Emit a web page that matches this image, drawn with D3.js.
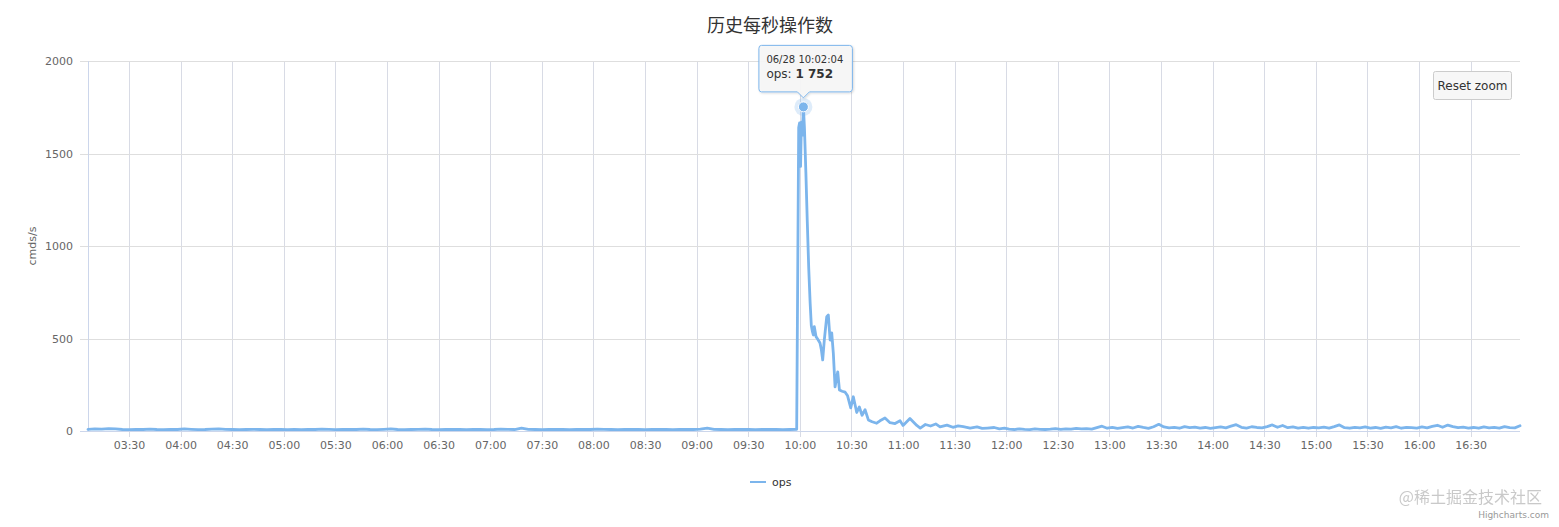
<!DOCTYPE html>
<html>
<head>
<meta charset="utf-8">
<script src="https://cdn.jsdelivr.net/npm/d3@7"></script>
<style>
  html, body { margin: 0; padding: 0; background: #fff; }
  svg { display: block; font-family: "DejaVu Sans", Verdana, sans-serif; }
</style>
</head>
<body>
<div id="chart"></div>
<script>
// ---- data ----
const seriesName = "ops";
const chartTitle = "历史每秒操作数";
const yTitle = "cmds/s";
const yTicks = [0, 500, 1000, 1500, 2000];

// before the spike: one sample every 4 minutes from 03:06:10
const morningStart = "03:06:10";
const morningStepMin = 4;
const morningOps = [
  9, 12, 10, 13, 11, 8, 7, 9, 8, 10,
  8, 7, 9, 8, 11, 9, 7, 8, 10, 12,
  9, 8, 7, 8, 9, 8, 7, 9, 8, 7,
  8, 7, 9, 8, 10, 9, 7, 8, 9, 8,
  10, 8, 7, 9, 11, 8, 7, 8, 9, 10,
  8, 7, 8, 9, 8, 7, 9, 8, 7, 8,
  10, 9, 8, 15, 9, 8, 7, 8, 9, 8,
  7, 8, 9, 8, 10, 9, 8, 7, 8, 9,
  8, 7, 8, 9, 8, 7, 8, 9, 8, 10,
  16, 9, 8, 7, 8, 9, 8, 7, 8, 9,
  8, 7, 8, 9
];

// the spike and its decay
const spikeTimes = [
  "09:59:20", "09:59:50", "10:00:25", "10:00:55", "10:01:25", "10:02:04", "10:02:40", "10:03:30",
  "10:04:20", "10:05:10", "10:06:00", "10:06:40", "10:07:15", "10:07:51", "10:08:25", "10:09:25",
  "10:10:30", "10:11:43", "10:12:30", "10:13:17", "10:14:14", "10:15:38", "10:16:34", "10:17:35",
  "10:18:32", "10:19:28", "10:20:28", "10:22:02", "10:23:00", "10:24:35", "10:26:20", "10:27:45",
  "10:29:35", "10:31:05", "10:33:05", "10:34:35", "10:36:10", "10:37:55", "10:39:50", "10:42:00",
  "10:44:40", "10:46:35", "10:49:30", "10:52:25", "10:55:20", "10:58:15", "11:00:00", "11:04:00",
  "11:08:00", "11:10:00", "11:13:00", "11:16:00", "11:19:00", "11:21:30", "11:25:30", "11:29:00",
  "11:32:00", "11:35:00", "11:39:00", "11:43:00", "11:46:00", "11:49:00", "11:53:00", "11:56:00",
  "11:59:00"
];
const spikeOps = [
  1640, 1665, 1430, 1670, 1600, 1752, 1640, 1400,
  1130, 880, 690, 570, 540, 519, 564, 510,
  495, 476, 440, 384, 492, 618, 627, 492,
  530, 421, 238, 320, 222, 215, 210, 190,
  125, 185, 100, 130, 85, 115, 60, 50,
  42, 55, 70, 45, 40, 55, 30, 68,
  30, 16, 35, 27, 38, 22, 32, 20,
  28, 24, 16, 22, 14, 16, 19, 12,
  15
];

// afternoon: one sample every 3 minutes from 12:01:40
const afternoonStart = "12:01:40";
const afternoonStepMin = 3;
const afternoonOps = [
  10, 8, 12, 9, 7, 11, 9, 8, 10, 13,
  9, 12, 10, 14, 11, 13, 10, 18, 26, 15,
  20, 14, 18, 22, 16, 25, 19, 14, 23, 36,
  22, 17, 20, 15, 24, 18, 21, 16, 19, 14,
  18, 22, 17, 26, 34, 20, 16, 23, 19, 17,
  24, 33, 20, 30, 18, 22, 16, 20, 15, 19,
  17, 21, 16, 24, 33, 18, 15, 20, 17, 22,
  16, 19, 14, 21, 17, 24, 15, 20, 18, 16,
  22, 17, 25, 31, 20, 32, 24, 18, 21, 16,
  19, 15, 22, 17, 20, 16, 24, 18, 17, 28
];

// the hovered point shown in the tooltip
const hoverTime = "10:02:04";
const hoverDate = "06/28";

// ---- build the series ----
const parseTime = d3.timeParse("%Y-%m-%d %H:%M:%S");
const day = "2023-06-28 ";
function at(t) { return parseTime(day + t); }

const data = [];
morningOps.forEach((v, i) => data.push({ t: d3.timeMinute.offset(at(morningStart), i * morningStepMin), v: v }));
spikeTimes.forEach((t, i) => data.push({ t: at(t), v: spikeOps[i] }));
afternoonOps.forEach((v, i) => data.push({ t: d3.timeMinute.offset(at(afternoonStart), i * afternoonStepMin), v: v }));

// ---- chart ----
const W = 1559, H = 527;
const margin = { top: 61, right: 39, bottom: 96, left: 88 };
const width = W - margin.left - margin.right;
const height = H - margin.top - margin.bottom;
const lineColor = "#7cb5ec";

const svg = d3.select("#chart").append("svg")
  .attr("width", W)
  .attr("height", H);

const defs = svg.append("defs");
const shadow = defs.append("filter").attr("id", "tipShadow")
  .attr("x", "-20%").attr("y", "-20%").attr("width", "140%").attr("height", "150%");
shadow.append("feDropShadow").attr("dx", 1).attr("dy", 1).attr("stdDeviation", 1.2)
  .attr("flood-color", "#000").attr("flood-opacity", 0.15);

// title
svg.append("text")
  .attr("x", 770).attr("y", 32)
  .attr("text-anchor", "middle")
  .style("font-family", "'Noto Sans CJK SC', sans-serif")
  .style("font-size", "18px")
  .attr("fill", "#333")
  .text(chartTitle);

const g = svg.append("g").attr("transform", `translate(${margin.left},${margin.top})`);

const x = d3.scaleTime()
  .domain(d3.extent(data, d => d.t))
  .range([0, width]);
const y = d3.scaleLinear()
  .domain([0, 2000])
  .range([height, 0]);

// x gridlines + ticks
const xTicks = x.ticks(d3.timeMinute.every(30)).filter(d => x(d) > 2);
g.append("g")
  .selectAll("line")
  .data(xTicks)
  .enter().append("line")
  .attr("x1", d => Math.round(x(d)) + 0.5)
  .attr("x2", d => Math.round(x(d)) + 0.5)
  .attr("y1", 0)
  .attr("y2", height + 6)
  .attr("stroke", "#d8dbe5")
  .attr("stroke-width", 1);

// y gridlines
g.append("g")
  .selectAll("line")
  .data(yTicks)
  .enter().append("line")
  .attr("x1", -8)
  .attr("x2", width)
  .attr("y1", d => Math.round(y(d)) + 0.5)
  .attr("y2", d => Math.round(y(d)) + 0.5)
  .attr("stroke", d => d === 0 ? "#ccd6eb" : "#dedede")
  .attr("stroke-width", 1);

// y axis line
g.append("line")
  .attr("x1", 0.5).attr("x2", 0.5)
  .attr("y1", 0).attr("y2", height)
  .attr("stroke", "#ccd6eb");

// axis labels
const xAxis = d3.axisBottom(x)
  .tickValues(xTicks)
  .tickFormat(d3.timeFormat("%H:%M"))
  .tickSize(0)
  .tickPadding(10);
const xg = g.append("g").attr("transform", `translate(0,${height})`).call(xAxis);
xg.select(".domain").remove();
xg.selectAll("text").attr("fill", "#666").style("font-size", "11px")
  .style("font-family", "'DejaVu Sans', Verdana, sans-serif");

const yAxis = d3.axisLeft(y).tickValues(yTicks).tickFormat(d3.format("d")).tickSize(0).tickPadding(15);
const yg = g.append("g").call(yAxis);
yg.select(".domain").remove();
yg.selectAll("text").attr("fill", "#666").style("font-size", "11px")
  .style("font-family", "'DejaVu Sans', Verdana, sans-serif");

svg.append("text")
  .attr("transform", `translate(36,${margin.top + height / 2}) rotate(-90)`)
  .attr("text-anchor", "middle")
  .attr("fill", "#666")
  .style("font-size", "11px")
  .text(yTitle);

// series line
const line = d3.line()
  .x(d => x(d.t))
  .y(d => y(d.v));

g.append("path")
  .datum(data)
  .attr("fill", "none")
  .attr("stroke", lineColor)
  .attr("stroke-width", 2.8)
  .attr("stroke-linejoin", "round")
  .attr("stroke-linecap", "round")
  .attr("d", line);

// hovered point
const hp = data.find(d => d.t.getTime() === at(hoverTime).getTime());
const hx = x(hp.t), hy = y(hp.v);
g.append("circle").attr("cx", hx).attr("cy", hy).attr("r", 9)
  .attr("fill", lineColor).attr("opacity", 0.25);
g.append("circle").attr("cx", hx).attr("cy", hy).attr("r", 5)
  .attr("fill", lineColor).attr("stroke", "#fff").attr("stroke-width", 1);

// tooltip
const tipW = 94, tipH = 47;
const tipX = hx - 45, tipY = hy - 62;
const tip = g.append("g").attr("transform", `translate(${tipX},${tipY})`);
const px = hx - tipX;
tip.append("path")
  .attr("d", `M3,0.5 H${tipW - 3} Q${tipW},0.5 ${tipW},3.5 V${tipH - 3} Q${tipW},${tipH} ${tipW - 3},${tipH}
    H${px + 6} L${px},${tipH + 6} L${px - 6},${tipH} H3 Q0.5,${tipH} 0.5,${tipH - 3} V3.5 Q0.5,0.5 3,0.5 Z`)
  .attr("fill", "rgba(247,247,247,0.92)")
  .attr("stroke", lineColor)
  .attr("stroke-width", 1)
  .attr("filter", "url(#tipShadow)");
tip.append("text")
  .attr("x", 8).attr("y", 18)
  .attr("fill", "#333")
  .style("font-size", "10px")
  .text(`${hoverDate} ${hoverTime}`);
const t2 = tip.append("text")
  .attr("x", 8).attr("y", 33)
  .attr("fill", "#333")
  .style("font-size", "12px");
t2.append("tspan").text(`${seriesName}: `);
t2.append("tspan").style("font-weight", "bold")
  .text(d3.format(",")(hp.v).replace(/,/g, " "));

// reset zoom button
const btn = svg.append("g").attr("transform", "translate(1433.5,71.5)");
btn.append("rect")
  .attr("width", 78).attr("height", 28).attr("rx", 2)
  .attr("fill", "#f7f7f7").attr("stroke", "#cccccc");
btn.append("text")
  .attr("x", 39).attr("y", 18)
  .attr("text-anchor", "middle")
  .attr("fill", "#333")
  .style("font-size", "12px")
  .text("Reset zoom");

// legend
const lg = svg.append("g").attr("transform", "translate(750,482)");
lg.append("line").attr("x1", 0).attr("x2", 16).attr("y1", 0).attr("y2", 0)
  .attr("stroke", lineColor).attr("stroke-width", 2);
lg.append("text").attr("x", 22).attr("y", 4)
  .attr("fill", "#333").style("font-size", "11px").text(seriesName);

// credits and watermark
svg.append("text")
  .attr("x", 1549).attr("y", 518)
  .attr("text-anchor", "end")
  .attr("fill", "#999")
  .style("font-size", "9px")
  .text("Highcharts.com");
svg.append("text")
  .attr("x", 1542).attr("y", 503)
  .attr("text-anchor", "end")
  .attr("fill", "#c4c4c4")
  .attr("opacity", 0.9)
  .style("font-family", "'Noto Sans CJK SC', sans-serif")
  .style("font-size", "16px")
  .text("@稀土掘金技术社区");
</script>
</body>
</html>
